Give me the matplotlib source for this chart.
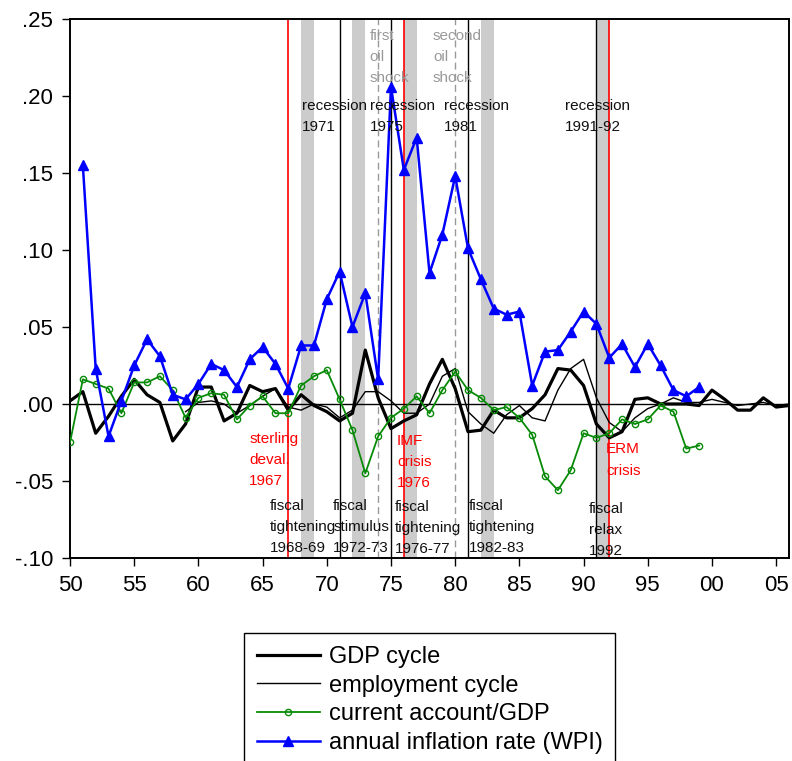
import matplotlib.pyplot as plt
from matplotlib.ticker import FuncFormatter

plt.rcParams['font.family'] = ['Liberation Sans', 'DejaVu Sans']

# annual series
gdp_years = list(range(1950, 2007))
gdp_cycle = [0.002, 0.008, -0.019, -0.008, 0.005, 0.016, 0.006, 0.001, -0.024, -0.013,
             0.011, 0.011, -0.011, -0.006, 0.012, 0.008, 0.010, -0.004, 0.006, -0.001,
             -0.005, -0.011, -0.006, 0.035, 0.004, -0.016, -0.011, -0.007, 0.013, 0.029,
             0.010, -0.018, -0.017, -0.004, -0.009, -0.009, -0.003, 0.006, 0.023, 0.022,
             0.012, -0.013, -0.022, -0.018, 0.003, 0.004, 0.000, 0.000, 0.000, -0.001,
             0.009, 0.003, -0.004, -0.004, 0.004, -0.002, -0.001]

emp_years = list(range(1959, 2007))
emp_cycle = [-0.005,
             0.001, 0.002, 0.000, -0.006, -0.001, 0.005, 0.010, -0.002, -0.004, 0.000,
             -0.002, -0.009, -0.004, 0.008, 0.008, 0.002, -0.006, -0.006, 0.000, 0.018,
             0.023, -0.005, -0.013, -0.019, -0.007, -0.001, -0.009, -0.011, 0.009, 0.023,
             0.029, 0.004, -0.012, -0.018, -0.009, -0.003, 0.000, 0.004, 0.001, 0.001,
             0.003, 0.001, -0.001, 0.000, 0.001, -0.001, 0.000]

ca_years = list(range(1950, 2000))
current_account = [-0.025, 0.016, 0.013, 0.010, -0.006, 0.014, 0.014, 0.018, 0.009, -0.009,
                   0.004, 0.007, 0.006, -0.010, -0.001, 0.005, -0.006, -0.006, 0.012, 0.018,
                   0.022, 0.003, -0.017, -0.045, -0.021, -0.009, -0.003, 0.005, -0.006, 0.009,
                   0.021, 0.009, 0.004, -0.004, -0.002, -0.009, -0.020, -0.047, -0.056, -0.043,
                   -0.019, -0.022, -0.019, -0.010, -0.013, -0.010, -0.001, -0.005, -0.029, -0.027]

infl_years = list(range(1951, 2000))
inflation = [0.155, 0.023, -0.021, 0.002, 0.025, 0.042, 0.031, 0.006, 0.003,
             0.013, 0.026, 0.022, 0.011, 0.029, 0.037, 0.026, 0.010, 0.038, 0.038,
             0.068, 0.086, 0.050, 0.072, 0.016, 0.206, 0.152, 0.173, 0.085, 0.110,
             0.148, 0.101, 0.081, 0.062, 0.058, 0.060, 0.012, 0.034, 0.035, 0.047,
             0.060, 0.052, 0.030, 0.039, 0.024, 0.039, 0.025, 0.009, 0.005, 0.011]

# events
fiscal_periods = [(1968, 1969), (1972, 1973), (1976, 1977), (1982, 1983), (1991, 1992)]
recession_years = [1971, 1975, 1981, 1991]
oil_shock_years = [1974, 1980]
crisis_years = [1967, 1976, 1992]

fig = plt.figure(figsize=(7.92, 7.61), dpi=100)
ax = fig.add_axes([0.0884, 0.2668, 0.9078, 0.7082])

for start, end in fiscal_periods:
    ax.axvspan(start, end, color='#cccccc', lw=0, zorder=0)
for yr in recession_years:
    ax.axvline(yr, color='black', lw=1.0, zorder=1)
for yr in oil_shock_years:
    ax.axvline(yr, color='#999999', lw=1.0, ls=(0, (5, 3)), zorder=1)
for yr in crisis_years:
    ax.axvline(yr, color='red', lw=1.2, zorder=2)

ax.axhline(0, color='black', lw=1.0, zorder=2)

ax.plot(gdp_years, gdp_cycle, color='black', lw=2.3, label='GDP cycle', zorder=3)
ax.plot(emp_years, emp_cycle, color='black', lw=1.0, label='employment cycle', zorder=3)
ax.plot(ca_years, current_account, color='#078a07', lw=1.3, marker='o', ms=4.5,
        mfc='none', mew=1.0, label='current account/GDP', zorder=3)
ax.plot(infl_years, inflation, color='blue', lw=1.8, marker='^', ms=7,
        label='annual inflation rate (WPI)', zorder=4)

# text labels: (x, first baseline, lines, colour)
step = 0.0137
notes = [
    (1968.06, 0.191, ['recession', '1971'], '#111111'),
    (1973.33, 0.191, ['recession', '1975'], '#111111'),
    (1979.15, 0.191, ['recession', '1981'], '#111111'),
    (1988.58, 0.191, ['recession', '1991-92'], '#111111'),
    (1973.33, 0.2364, ['first', 'oil', 'shock'], '#999999'),
    (1978.27, 0.2364, ['second', 'oil', 'shock'], '#999999'),
    (1963.97, -0.0253, ['sterling', 'deval.', '1967'], 'red'),
    (1975.46, -0.0266, ['IMF', 'crisis', '1976'], 'red'),
    (1991.75, -0.0321, ['ERM', 'crisis'], 'red'),
    (1965.59, -0.0688, ['fiscal', 'tightening', '1968-69'], '#111111'),
    (1970.50, -0.0688, ['fiscal', 'stimulus', '1972-73'], '#111111'),
    (1975.33, -0.0695, ['fiscal', 'tightening', '1976-77'], '#111111'),
    (1981.04, -0.0688, ['fiscal', 'tightening', '1982-83'], '#111111'),
    (1990.40, -0.0708, ['fiscal', 'relax', '1992'], '#111111'),
]
for x, y, lines, col in notes:
    for i, s in enumerate(lines):
        ax.text(x, y - i * step, s, color=col, fontsize=11, va='baseline',
                ha='left', zorder=5)

ax.set_xlim(1950, 2006)
ax.set_ylim(-0.10, 0.25)
ax.set_xticks(range(1950, 2006, 5))
ax.set_yticks([-0.10, -0.05, 0.0, 0.05, 0.10, 0.15, 0.20, 0.25])
ax.xaxis.set_major_formatter(FuncFormatter(lambda v, p: '%02d' % (int(round(v)) % 100)))
ax.yaxis.set_major_formatter(FuncFormatter(lambda v, p: ('%.2f' % v).replace('0.', '.')))
ax.tick_params(direction='out', length=6, width=1, labelsize=16, colors='black', pad=6)
for sp in ax.spines.values():
    sp.set_linewidth(1.4)

fig.legend(loc='upper left', bbox_to_anchor=(244 / 792, 1 - 633 / 761),
           fontsize=17, frameon=True, fancybox=False, edgecolor='black',
           framealpha=1, borderpad=0.55, handlelength=2.65, handletextpad=0.38,
           labelspacing=0.28, borderaxespad=0)

fig.savefig('out.png', dpi=100)
